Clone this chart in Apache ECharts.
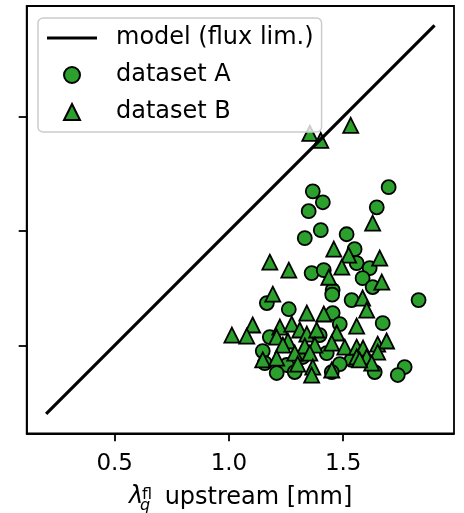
<!DOCTYPE html>
<html>
<head>
<meta charset="utf-8">
<script src="https://cdn.jsdelivr.net/npm/echarts@6/dist/echarts.min.js"></script>
<style>
  html, body { margin: 0; padding: 0; background: #fff; }
  #chart { width: 464px; height: 513px; }
</style>
</head>
<body>
<div id="chart"></div>
<script>
// Axis limits and tick positions (both axes share the same scale)
const axisRange = [0.115, 1.985];
const xTicks = [0.5, 1.0, 1.5];
const yTicks = [0.5, 1.0, 1.5];

// Flux-limited model: y = x
const modelX = [0.2, 1.9];
const modelY = [0.2, 1.9];

// dataset A (circles)
const aX = [1.699, 1.367, 1.411, 1.349, 1.647, 1.402, 1.515, 1.332, 1.550, 1.362,
            1.415, 1.559, 1.616, 1.585, 1.629, 1.454, 1.452, 1.166, 1.537, 1.830,
            1.262, 1.454, 1.485, 1.673, 1.179, 1.397, 1.148, 1.428, 1.537, 1.253,
            1.485, 1.157, 1.638, 1.209, 1.769, 1.739, 1.323, 1.450, 1.288];
const aY = [1.192, 1.174, 1.126, 1.087, 1.104, 1.004, 0.986, 0.969, 0.921, 0.816,
            0.829, 0.860, 0.838, 0.794, 0.755, 0.742, 0.722, 0.685, 0.698, 0.698,
            0.658, 0.641, 0.593, 0.597, 0.536, 0.545, 0.475, 0.466, 0.436, 0.414,
            0.418, 0.422, 0.383, 0.379, 0.405, 0.370, 0.449, 0.383, 0.383];

// dataset B (triangles)
const bX = [1.354, 1.402, 1.533, 1.629, 1.459, 1.524, 1.660, 1.179, 1.262, 1.494,
            1.437, 1.669, 1.192, 1.585, 1.603, 1.341, 1.415, 1.559, 1.104, 1.013,
            1.078, 1.223, 1.275, 1.310, 1.341, 1.384, 1.472, 1.209, 1.258, 1.236,
            1.332, 1.376, 1.450, 1.507, 1.559, 1.587, 1.651, 1.690, 1.148, 1.209,
            1.288, 1.354, 1.559, 1.603, 1.651, 1.301, 1.367, 1.450, 1.625, 1.362,
            1.572];
const bY = [1.428, 1.397, 1.463, 1.035, 0.921, 0.895, 0.882, 0.864, 0.829, 0.842,
            0.798, 0.777, 0.724, 0.707, 0.654, 0.641, 0.637, 0.584, 0.589, 0.545,
            0.540, 0.580, 0.593, 0.567, 0.549, 0.567, 0.554, 0.536, 0.519, 0.501,
            0.497, 0.501, 0.510, 0.492, 0.492, 0.488, 0.505, 0.519, 0.436, 0.444,
            0.466, 0.466, 0.449, 0.449, 0.470, 0.418, 0.405, 0.392, 0.422, 0.370,
            0.436];

const zip = (xs, ys) => xs.map((x, i) => [x, ys[i]]);

const FONT = 'DejaVu Sans';
const GREEN = '#2ca02c';
const chart = echarts.init(document.getElementById('chart'), null, { renderer: 'canvas' });

const axisCommon = {
  type: 'value',
  min: axisRange[0],
  max: axisRange[1],
  splitLine: { show: false },
  axisLine: { show: true, onZero: false, lineStyle: { color: '#000', width: 1.8 } }
};

chart.setOption({
  animation: false,
  backgroundColor: '#fff',
  grid: {
    left: 26.7, top: 6, right: 10, bottom: 79.7,
    show: true, borderColor: '#000', borderWidth: 1.8, backgroundColor: 'transparent'
  },
  xAxis: Object.assign({}, axisCommon, {
    axisTick: { show: true, customValues: xTicks, length: 8, lineStyle: { color: '#000', width: 1.8 } },
    axisLabel: {
      customValues: xTicks, margin: 19, color: '#000', fontSize: 23, fontFamily: FONT,
      formatter: v => v.toFixed(1)
    }
  }),
  yAxis: Object.assign({}, axisCommon, {
    axisTick: { show: true, customValues: yTicks, length: 8, lineStyle: { color: '#000', width: 1.8 } },
    axisLabel: { show: false, customValues: yTicks }
  }),
  legend: {
    orient: 'vertical',
    left: 38, top: 18,
    itemWidth: 50, itemHeight: 16, itemGap: 13,
    padding: [8, 8, 8, 9],
    symbolKeepAspect: true,
    backgroundColor: 'rgba(255,255,255,0.8)',
    borderColor: '#cccccc', borderWidth: 1.5, borderRadius: 5,
    selectedMode: false,
    textStyle: { fontSize: 24, fontFamily: FONT, color: '#000', padding: [0, 0, 0, 14] },
    data: [
      { name: 'model (flux lim.)', icon: 'path://M0,0H50V3.2H0Z' },
      { name: 'dataset A', icon: 'circle' },
      { name: 'dataset B', icon: 'path://M0,-1L1,1L-1,1Z' }
    ],
    z: 10
  },
  graphic: [{
    type: 'group',
    silent: true,
    children: [
      { type: 'text', x: 129, y: 509, style: { text: 'λ', font: 'italic 24px "DejaVu Sans"', fill: '#000', verticalAlign: 'bottom' } },
      { type: 'text', x: 140, y: 514, style: { text: 'q', font: 'italic 16px "DejaVu Sans"', fill: '#000', verticalAlign: 'bottom' } },
      { type: 'text', x: 142, y: 503, style: { text: 'fl', font: '16px "DejaVu Sans"', fill: '#000', verticalAlign: 'bottom' } },
      { type: 'text', x: 157, y: 510, style: { text: ' upstream [mm]', font: '24px "DejaVu Sans"', fill: '#000', verticalAlign: 'bottom' } }
    ]
  }],
  series: [
    {
      name: 'dataset A', type: 'scatter', z: 2,
      data: zip(aX, aY), symbol: 'circle', symbolSize: 14,
      itemStyle: { color: GREEN, borderColor: '#000', borderWidth: 1.8, opacity: 1 },
      emphasis: { disabled: true }
    },
    {
      name: 'dataset B', type: 'scatter', z: 3,
      data: zip(bX, bY), symbol: 'triangle', symbolSize: 15,
      itemStyle: { color: GREEN, borderColor: '#000', borderWidth: 1.8, opacity: 1 },
      emphasis: { disabled: true }
    },
    {
      name: 'model (flux lim.)', type: 'line', z: 4,
      data: zip(modelX, modelY), symbol: 'none', showSymbol: false,
      lineStyle: { color: '#000', width: 3.2 },
      itemStyle: { color: '#000' },
      emphasis: { disabled: true }
    }
  ]
});
</script>
</body>
</html>
